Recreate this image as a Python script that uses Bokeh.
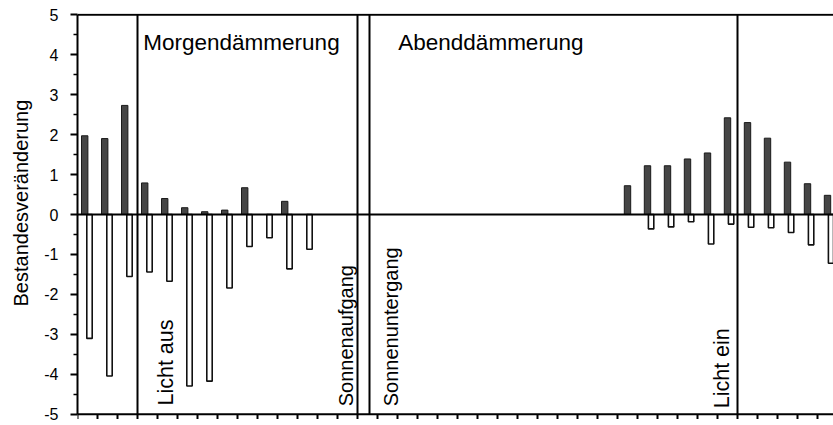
from math import pi
from bokeh.plotting import figure
from bokeh.models import Range1d, FixedTicker, Span, Title
from bokeh.embed import file_html
from bokeh.resources import INLINE
from bokeh.core.properties import value

# ---- data ----
morning_slots = [0, 1, 2, 3, 4, 5, 6, 7, 8, 9, 10, 11]
morning_gain = [1.97, 1.90, 2.73, 0.79, 0.40, 0.17, 0.07, 0.11, 0.67, 0.0, 0.33, 0.0]
morning_loss = [-3.10, -4.04, -1.55, -1.44, -1.67, -4.29, -4.17, -1.84, -0.80, -0.58, -1.36, -0.87]

evening_slots = [27, 28, 29, 30, 31, 32, 33, 34, 35, 36, 37]
evening_gain = [0.72, 1.22, 1.22, 1.39, 1.54, 2.42, 2.30, 1.91, 1.31, 0.77, 0.48]
evening_loss = [0.0, -0.36, -0.31, -0.18, -0.74, -0.24, -0.32, -0.33, -0.45, -0.76, -1.22]

event_slots = [3, 14, 14.6, 33]
event_labels = ["Licht aus", "Sonnenaufgang", "Sonnenuntergang", "Licht ein"]
event_label_slots = [4.4, 13.42, 15.67, 32.2]

phase_labels = ["Morgendämmerung", "Abenddämmerung"]
phase_label_slots = [3.29, 16.04]

y_ticks = [-5, -4, -3, -2, -1, 0, 1, 2, 3, 4, 5]
n_slots = 38
y_label = "Bestandesveränderung"

FONT = "Liberation Sans"
Y_MIN, Y_MAX = y_ticks[0], y_ticks[-1]

p = figure(width=833, height=425, output_backend="svg", toolbar_location=None,
           x_range=Range1d(0, 37.8), y_range=Range1d(Y_MIN - 0.13, Y_MAX + 0.03),
           x_axis_location=None,
           min_border_left=77, min_border_right=0, min_border_top=13, min_border_bottom=6)
p.xgrid.visible = False
p.ygrid.visible = False
p.outline_line_color = None
p.background_fill_color = "white"
p.border_fill_color = "white"


def dodge(slots, off_m, off_e):
    return [s + (off_m if s < 20 else off_e) for s in slots]


slots = morning_slots + evening_slots
gain = morning_gain + evening_gain
loss = morning_loss + evening_loss

gx = [x for x, g in zip(dodge(slots, 0.36, 0.5), gain) if g > 0]
gv = [g for g in gain if g > 0]
lx = [x for x, l in zip(dodge(slots, 0.6, 0.68), loss) if l < 0]
lv = [l for l in loss if l < 0]

p.vbar(x=gx, top=gv, bottom=0, width=0.32, fill_color="#454545",
       line_color="#1a1a1a", line_width=1)
p.vbar(x=lx, top=0, bottom=lv, width=0.27, fill_color="white",
       line_color="#111111", line_width=1.6)

# frame lines: zero line, top line, bottom axis line
p.add_layout(Span(location=0, dimension="width", line_color="black", line_width=2))
p.add_layout(Span(location=Y_MAX, dimension="width", line_color="black", line_width=2))
p.add_layout(Span(location=Y_MIN, dimension="width", line_color="black", line_width=2))

# event lines
p.segment(x0=event_slots, x1=event_slots, y0=[Y_MIN] * len(event_slots),
          y1=[Y_MAX] * len(event_slots), line_color="black", line_width=2)

# bottom tick marks
tick_x = list(range(n_slots))
p.segment(x0=tick_x, x1=tick_x, y0=[Y_MIN] * n_slots, y1=[Y_MIN - 0.12] * n_slots,
          line_color="black", line_width=2)

p.text(x=phase_label_slots, y=[4.3, 4.3], text=phase_labels,
       text_font=value(FONT), text_font_size=value("22.5px"), text_color="black",
       text_align="left", text_baseline="alphabetic")
p.text(x=event_label_slots, y=[-4.78, -4.8, -4.8, -4.85], text=event_labels,
       angle=pi / 2, text_font=value(FONT),
       text_font_size=["21.5px", "20px", "20px", "21.5px"],
       text_color="black", text_align="left", text_baseline="alphabetic")

# y axis
p.yaxis.bounds = (Y_MIN, Y_MAX)
p.yaxis.ticker = FixedTicker(ticks=y_ticks, minor_ticks=[t + 0.5 for t in y_ticks[:-1]])
p.yaxis.major_label_overrides = {t: str(t) for t in y_ticks}
p.yaxis.major_label_text_font = FONT
p.yaxis.major_label_text_font_size = "16px"
p.yaxis.major_label_text_color = "black"
p.yaxis.major_tick_out = 7
p.yaxis.major_tick_in = 0
p.yaxis.minor_tick_out = 4
p.yaxis.minor_tick_in = 0
p.yaxis.major_label_standoff = 12
p.yaxis.axis_line_width = 2
p.yaxis.major_tick_line_width = 2
p.yaxis.minor_tick_line_width = 1.5

p.add_layout(Title(text=y_label, align="left", offset=113, standoff=16,
                   vertical_align="top",
                   text_font=FONT, text_font_size="20px", text_font_style="normal",
                   text_color="black"), "left")

open("out.html", "w").write(file_html(p, INLINE))
